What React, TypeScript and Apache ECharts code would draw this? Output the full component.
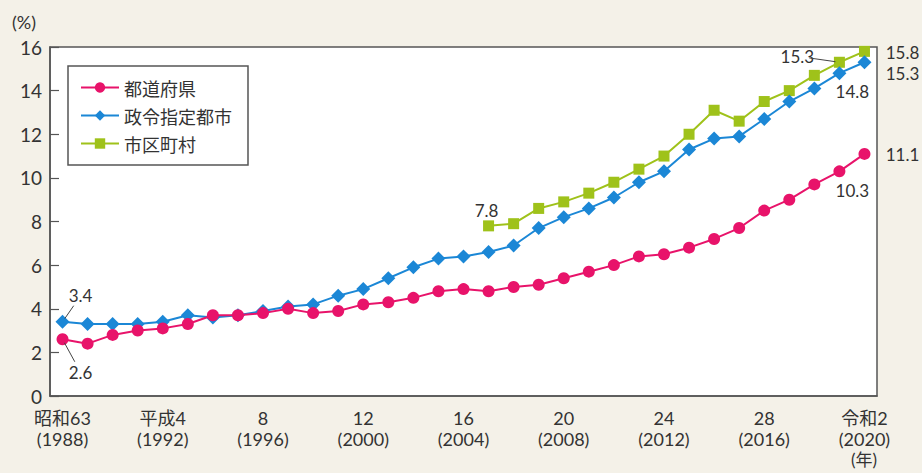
import React, { useEffect, useRef } from "react";
import * as echarts from "echarts";

const years = [
  "1988","1989","1990","1991","1992","1993","1994","1995","1996","1997","1998",
  "1999","2000","2001","2002","2003","2004","2005","2006","2007","2008","2009",
  "2010","2011","2012","2013","2014","2015","2016","2017","2018","2019","2020",
];

const tickLabels: Record<number, string> = {
  0: "昭和63\n(1988)",
  4: "平成4\n(1992)",
  8: "8\n(1996)",
  12: "12\n(2000)",
  16: "16\n(2004)",
  20: "20\n(2008)",
  24: "24\n(2012)",
  28: "28\n(2016)",
  32: "令和2\n(2020)",
};

const prefectures = [
  2.6, 2.4, 2.8, 3.0, 3.1, 3.3, 3.7, 3.7, 3.8, 4.0, 3.8, 3.9, 4.2, 4.3, 4.5, 4.8, 4.9,
  4.8, 5.0, 5.1, 5.4, 5.7, 6.0, 6.4, 6.5, 6.8, 7.2, 7.7, 8.5, 9.0, 9.7, 10.3, 11.1,
];

const designatedCities = [
  3.4, 3.3, 3.3, 3.3, 3.4, 3.7, 3.6, 3.7, 3.9, 4.1, 4.2, 4.6, 4.9, 5.4, 5.9, 6.3, 6.4,
  6.6, 6.9, 7.7, 8.2, 8.6, 9.1, 9.8, 10.3, 11.3, 11.8, 11.9, 12.7, 13.5, 14.1, 14.8, 15.3,
];

const municipalities: (number | null)[] = [
  null, null, null, null, null, null, null, null, null, null, null, null, null, null, null, null, null,
  7.8, 7.9, 8.6, 8.9, 9.3, 9.8, 10.4, 11.0, 12.0, 13.1, 12.6, 13.5, 14.0, 14.7, 15.3, 15.8,
];

const seriesNames = ["都道府県", "政令指定都市", "市区町村"];
const colors = ["#e8136a", "#1b87d6", "#9fc21a"];

const FONT = "Lato, 'Noto Sans CJK JP', sans-serif";
const CJK = "'Noto Sans CJK JP', sans-serif";
const TEXT = "#333";

// label annotations: [seriesIndex, dataIndex, offsetX, offsetY, leader]
const annotations: [number, number, number, number, boolean][] = [
  [0, 0, 18, 33, true],
  [1, 0, 18, -26, true],
  [2, 17, -2, -15, false],
  [0, 31, 13, 19, false],
  [0, 32, 38, 1, false],
  [1, 31, 13, 18, false],
  [1, 32, 38, 11, false],
  [2, 32, 38, 1, false],
  [2, 31, -42, -6, true],
];

function withLabels(values: (number | null)[], sIdx: number) {
  return values.map((v, i) => {
    const a = annotations.find((x) => x[0] === sIdx && x[1] === i);
    if (!a || v == null) return v;
    return {
      value: v,
      label: {
        show: true,
        position: "inside",
        offset: [a[2], a[3]],
        formatter: (p: any) => Number(p.value).toFixed(1),
        color: TEXT,
        fontSize: 17,
        lineHeight: 17,
        fontFamily: FONT,
      },
    };
  });
}

export default function App() {
  const ref = useRef<HTMLDivElement>(null);
  useEffect(() => {
    document.body.style.margin = "0";
    document.body.style.background = "#f4f1e8";
    const chart = echarts.init(ref.current!, null, { renderer: "svg" });
    const symbols = ["circle", "diamond", "rect"];
    const sizes = [12, 14, 11];
    const datas = [prefectures, designatedCities, municipalities];
    const option: any = {
      animation: false,
      backgroundColor: "#f4f1e8",
      textStyle: { fontFamily: FONT },
      grid: {
        left: 50,
        right: 45,
        top: 47,
        bottom: 77,
        show: true,
        backgroundColor: "#ffffff",
        borderColor: "#555",
        borderWidth: 1.5,
      },
      legend: {
        orient: "vertical",
        left: 68,
        top: 66,
        padding: [12, 16, 12, 12],
        itemGap: 9,
        itemWidth: 38,
        itemHeight: 13,
        backgroundColor: "#ffffff",
        borderColor: "#555",
        borderWidth: 1.5,
        data: seriesNames,
        textStyle: { fontSize: 18, color: TEXT, fontFamily: CJK, lineHeight: 19 },
      },
      xAxis: {
        type: "category",
        data: years,
        boundaryGap: true,
        axisLine: { lineStyle: { color: "#555", width: 1.5 } },
        axisTick: {
          inside: true,
          alignWithLabel: true,
          interval: 0,
          length: 10,
          lineStyle: { color: "#555", width: 1.2 },
        },
        axisLabel: {
          interval: 3,
          margin: 11,
          color: TEXT,
          fontSize: 18,
          lineHeight: 21,
          fontFamily: FONT,
          formatter: (_v: string, i: number) => tickLabels[i] ?? "",
        },
      },
      yAxis: {
        type: "value",
        min: 0,
        max: 16,
        interval: 2,
        splitLine: { show: false },
        axisLine: { show: true, lineStyle: { color: "#555", width: 1.5 } },
        axisTick: { show: true, inside: true, length: 9, lineStyle: { color: "#555", width: 1.2 } },
        axisLabel: { margin: 8, color: TEXT, fontSize: 19, fontFamily: FONT },
      },
      graphic: [
        { type: "text", left: 12, top: 13, style: { text: "(%)", fill: TEXT, font: `18px ${FONT}` } },
        { type: "text", left: 851, top: 451, style: { text: "(年)", fill: TEXT, font: `17px ${FONT}` } },
      ],
      series: datas.map((d, s) => ({
        name: seriesNames[s],
        type: "line",
        data: withLabels(d, s),
        symbol: symbols[s],
        symbolSize: sizes[s],
        connectNulls: false,
        itemStyle: { color: colors[s] },
        lineStyle: { color: colors[s], width: 2 },
        z: 3 - s,
      })),
    };
    chart.setOption(option);

    // leader lines from point to label
    const lines: any[] = [];
    annotations.forEach(([s, i, dx, dy, leader]) => {
      if (!leader) return;
      const v = datas[s][i] as number;
      const p = chart.convertToPixel({ seriesIndex: s }, [i, v]) as number[];
      const len = Math.hypot(dx, dy);
      const ux = dx / len;
      const uy = dy / len;
      const start = [p[0] + ux * 4, p[1] + uy * 4];
      const end = [p[0] + dx - ux * 12, p[1] + dy - uy * 12];
      lines.push({
        type: "line",
        z: 10,
        shape: { x1: start[0], y1: start[1], x2: end[0], y2: end[1] },
        style: { stroke: "#444", lineWidth: 1 },
      });
    });
    chart.setOption({ graphic: [...option.graphic, ...lines] });
    return () => chart.dispose();
  }, []);
  return <div ref={ref} style={{ width: 922, height: 473 }} />;
}
